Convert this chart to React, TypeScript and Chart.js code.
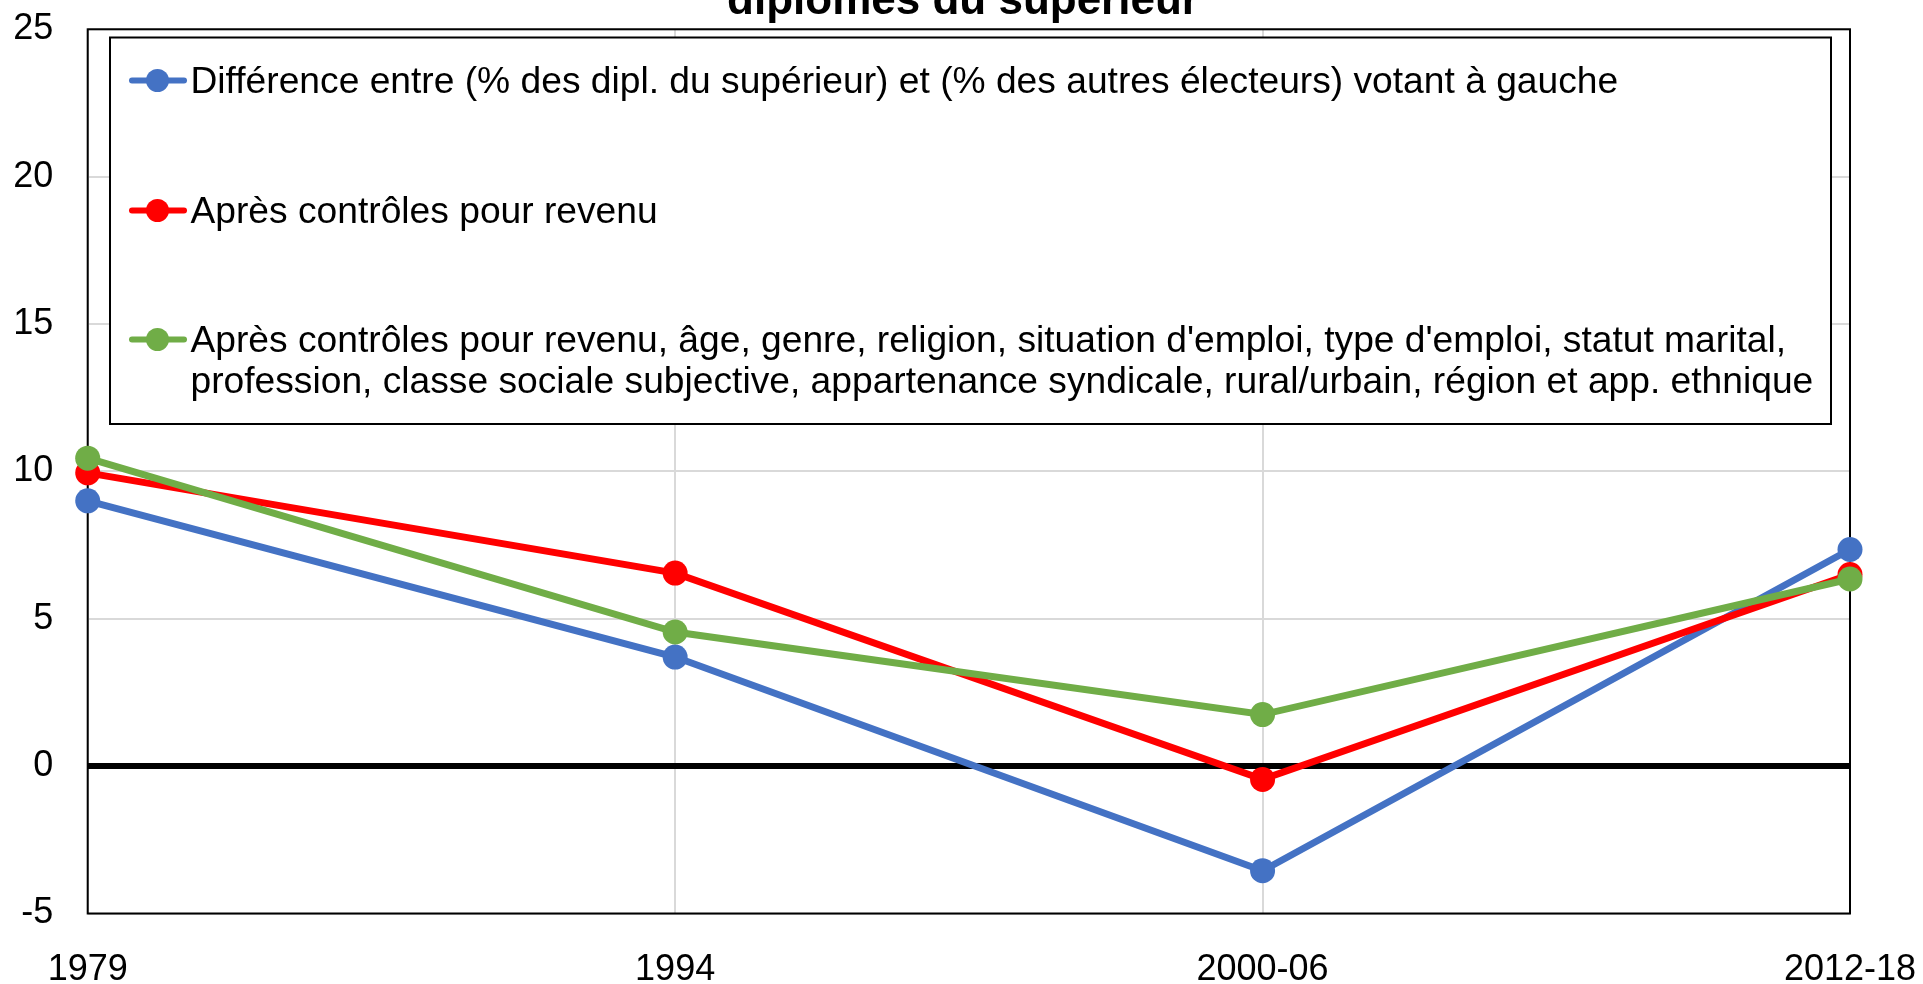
import React, { useEffect, useRef } from "react";
import { Chart, registerables } from "chart.js";

Chart.register(...registerables);

// ---- data ----
const categories = ["1979", "1994", "2000-06", "2012-18"];
const diffValues = [9.0, 3.7, -3.55, 7.35];
const revenuValues = [9.95, 6.55, -0.45, 6.5];
const allControlsValues = [10.45, 4.55, 1.75, 6.35];
const yTickValues = [-5, 0, 5, 10, 15, 20, 25];
const titleText = "diplômés du supérieur";
const legendLines = [
  ["Différence entre (% des dipl. du supérieur) et (% des autres électeurs) votant à gauche"],
  ["Après contrôles pour revenu"],
  [
    "Après contrôles pour revenu, âge, genre, religion, situation d'emploi, type d'emploi, statut marital,",
    "profession, classe sociale subjective, appartenance syndicale, rural/urbain, région et app. ethnique",
  ],
];
const seriesColors = ["#4472C4", "#FF0000", "#70AD47"];

const FONT = "'Liberation Sans', Arial, Helvetica, sans-serif";

const titlePlugin = {
  id: "cutTitle",
  afterDraw(chart: any) {
    const ctx = chart.ctx;
    ctx.save();
    ctx.fillStyle = "#000";
    ctx.font = `bold 44px ${FONT}`;
    ctx.textAlign = "center";
    ctx.textBaseline = "alphabetic";
    ctx.fillText(titleText, 963, 14);
    ctx.restore();
  },
};

const frameLegendPlugin = {
  id: "frameLegend",
  beforeDatasetsDraw(chart: any) {
    const { ctx, chartArea } = chart;
    ctx.save();
    ctx.strokeStyle = "#000";
    ctx.lineWidth = 2;
    ctx.strokeRect(chartArea.left, chartArea.top, chartArea.right - chartArea.left, chartArea.bottom - chartArea.top);
    ctx.restore();
  },
  afterDraw(chart: any) {
    const ctx = chart.ctx;
    const box = { left: 110, top: 37.5, right: 1831, bottom: 424 };
    ctx.save();
    ctx.fillStyle = "#fff";
    ctx.fillRect(box.left, box.top, box.right - box.left, box.bottom - box.top);
    ctx.strokeStyle = "#000";
    ctx.lineWidth = 2;
    ctx.strokeRect(box.left, box.top, box.right - box.left, box.bottom - box.top);
    const baselines = [92.5, 222.5, 351.5];
    const lineGap = 41;
    chart.data.datasets.forEach((ds: any, i: number) => {
      const base = baselines[i];
      const my = base - 12;
      ctx.strokeStyle = ds.borderColor;
      ctx.lineWidth = 6;
      ctx.lineCap = "round";
      ctx.beginPath();
      ctx.moveTo(132, my);
      ctx.lineTo(184, my);
      ctx.stroke();
      ctx.fillStyle = ds.borderColor;
      ctx.beginPath();
      ctx.arc(157.5, my, 11.5, 0, Math.PI * 2);
      ctx.fill();
      ctx.fillStyle = "#000";
      ctx.font = `37.2px ${FONT}`;
      ctx.textAlign = "left";
      ctx.textBaseline = "alphabetic";
      legendLines[i].forEach((t, j) => ctx.fillText(t, 190.5, base + j * lineGap));
    });
    ctx.restore();
  },
};

export default function App() {
  const ref = useRef<HTMLCanvasElement | null>(null);
  useEffect(() => {
    if (!ref.current) return;
    const mk = (label: string, data: number[], color: string, order: number) => ({
      label,
      data,
      borderColor: color,
      backgroundColor: color,
      borderWidth: 7,
      pointRadius: 12.5,
      pointBorderWidth: 0,
      pointBackgroundColor: color,
      pointHoverRadius: 12.5,
      tension: 0,
      clip: false as any,
      order,
    });
    const chart = new Chart(ref.current, {
      type: "line",
      data: {
        labels: categories,
        datasets: [
          mk(legendLines[0].join(" "), diffValues, seriesColors[0], 2),
          mk(legendLines[1].join(" "), revenuValues, seriesColors[1], 1),
          mk(legendLines[2].join(" "), allControlsValues, seriesColors[2], 0),
        ],
      },
      options: {
        animation: false,
        responsive: false,
        maintainAspectRatio: false,
        layout: { padding: { top: 29.3, right: 73, left: 0, bottom: 0 } },
        plugins: {
          legend: { display: false },
          title: { display: false },
          tooltip: { enabled: false },
        },
        scales: {
          x: {
            type: "category",
            offset: false,
            grid: {
              color: "#d9d9d9",
              lineWidth: 2,
              drawTicks: true,
              tickLength: 34.5,
              tickColor: "rgba(0,0,0,0)",
            },
            border: { display: false },
            ticks: {
              color: "#000",
              font: { size: 36, family: FONT },
              padding: 0,
              maxRotation: 0,
              autoSkip: false,
            },
            afterFit: (s: any) => {
              s.height = 70.5;
              s.paddingLeft = 0;
              s.paddingRight = 0;
            },
          },
          y: {
            min: -5,
            max: 25,
            afterBuildTicks: (s: any) => {
              s.ticks = yTickValues.map((v) => ({ value: v }));
            },
            grid: {
              color: (c: any) => (c.tick && c.tick.value === 0 ? "#000" : "#d9d9d9"),
              lineWidth: (c: any) => (c.tick && c.tick.value === 0 ? 6 : 2),
              drawTicks: true,
              tickLength: 34.4,
              tickColor: "rgba(0,0,0,0)",
            },
            border: { display: false },
            ticks: {
              color: "#000",
              font: { size: 36, family: FONT },
              padding: 0,
            },
            afterFit: (s: any) => {
              s.width = 87.7;
              s.paddingTop = 0;
              s.paddingBottom = 0;
            },
          },
        },
      },
      plugins: [frameLegendPlugin, titlePlugin],
    });
    return () => chart.destroy();
  }, []);
  return (
    <div style={{ position: "fixed", left: 0, top: 0, width: 1923, height: 984, overflow: "hidden", background: "#fff" }}>
      <canvas ref={ref} width={1923} height={984} style={{ display: "block", width: 1923, height: 984 }} />
    </div>
  );
}
